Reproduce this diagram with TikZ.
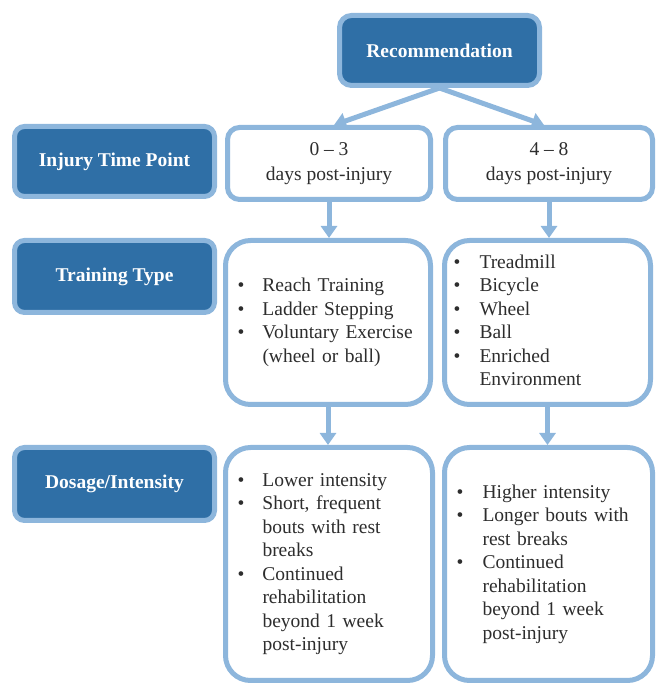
\documentclass[tikz,border=0pt]{standalone}
\usepackage{fontspec}
\setmainfont{Liberation Serif}
\usepackage{tikz}
\usetikzlibrary{arrows.meta}

\definecolor{headblue}{RGB}{47,111,166}
\definecolor{edgeblue}{RGB}{141,182,220}
\definecolor{textgray}{RGB}{45,45,45}

\begin{document}
\begin{tikzpicture}[x=1pt, y=1pt,
	box/.style = {draw=edgeblue, line width=5pt, inner sep=0pt,
		font=\fontsize{19.5}{25}\selectfont},
	headbox/.style = {box, fill=headblue, text=white, rounded corners=10pt,
		minimum width=200pt, font=\fontsize{19.5}{23.5}\selectfont\bfseries},
	timebox/.style = {box, fill=white, text=textgray, rounded corners=12pt,
		minimum height=72pt, align=center},
	listbox/.style = {box, fill=white, text=textgray, rounded corners=25pt,
		align=left, inner xsep=12pt, font=\fontsize{19.5}{23.5}\selectfont},
	link/.style = {edgeblue, line width=5pt,
		-{Triangle[width=16pt, length=12pt]}}]
	\useasboundingbox (0, 0) rectangle (657, 684);
	\node [headbox, minimum height=70pt, rounded corners=12pt] (rec) at (439.5, 633.5) {Recommendation};
	\node [headbox, minimum height=70pt] (when) at (114.5, 522.5) {Injury Time Point};
	\node [headbox, minimum height=72pt] (type) at (114.5, 407.5) {Training Type};
	\node [headbox, minimum height=73pt] (dose) at (114.5, 200) {Dosage/Intensity};
	\node [timebox, minimum width=203pt] (early) at (329, 520.5) {0 – 3\\days post-injury};
	\node [timebox, minimum width=207pt] (late) at (549, 520.5) {4 – 8\\days post-injury};
	\node [listbox, text width=181pt, minimum height=164pt] (earlytype) at (328, 361.5) {%
		\begin{tabular}{@{}p{25pt}@{}l@{}}
			• & Reach Training\\
			• & Ladder Stepping\\
			• & Voluntary Exercise\\
			& (wheel or ball)
		\end{tabular}};
	\node [listbox, text width=188pt, inner xsep=9pt, minimum height=164pt] (latetype) at (547.5, 361.5) {%
		\begin{tabular}{@{}p{26pt}@{}l@{}}
			• & Treadmill\\
			• & Bicycle\\
			• & Wheel\\
			• & Ball\\
			• & Enriched\\
			& Environment
		\end{tabular}};
	\node [listbox, text width=183pt, minimum height=233pt] (earlydose) at (329, 120) {%
		\begin{tabular}{@{}p{25pt}@{}l@{}}
			• & Lower intensity\\
			• & Short, frequent\\
			& bouts with rest\\
			& breaks\\
			• & Continued\\
			& rehabilitation\\
			& beyond 1 week\\
			& post-injury
		\end{tabular}};
	\node [listbox, text width=184pt, minimum height=233pt] (latedose) at (548.5, 120) {%
		\begin{tabular}{@{}p{26pt}@{}l@{}}
			• & Higher intensity\\
			• & Longer bouts with\\
			& rest breaks\\
			• & Continued\\
			& rehabilitation\\
			& beyond 1 week\\
			& post-injury
		\end{tabular}};
	\draw [link] (rec.south) -- ([xshift=5pt]early.north);
	\draw [link] (rec.south) -- ([xshift=-5pt]late.north);
	\draw [link] (early.south) -- (early.south |- earlytype.north);
	\draw [link] (late.south) -- (late.south |- latetype.north);
	\draw [link] (earlytype.south) -- (earlytype.south |- earlydose.north);
	\draw [link] (latetype.south) -- (latetype.south |- latedose.north);
\end{tikzpicture}
\end{document}
